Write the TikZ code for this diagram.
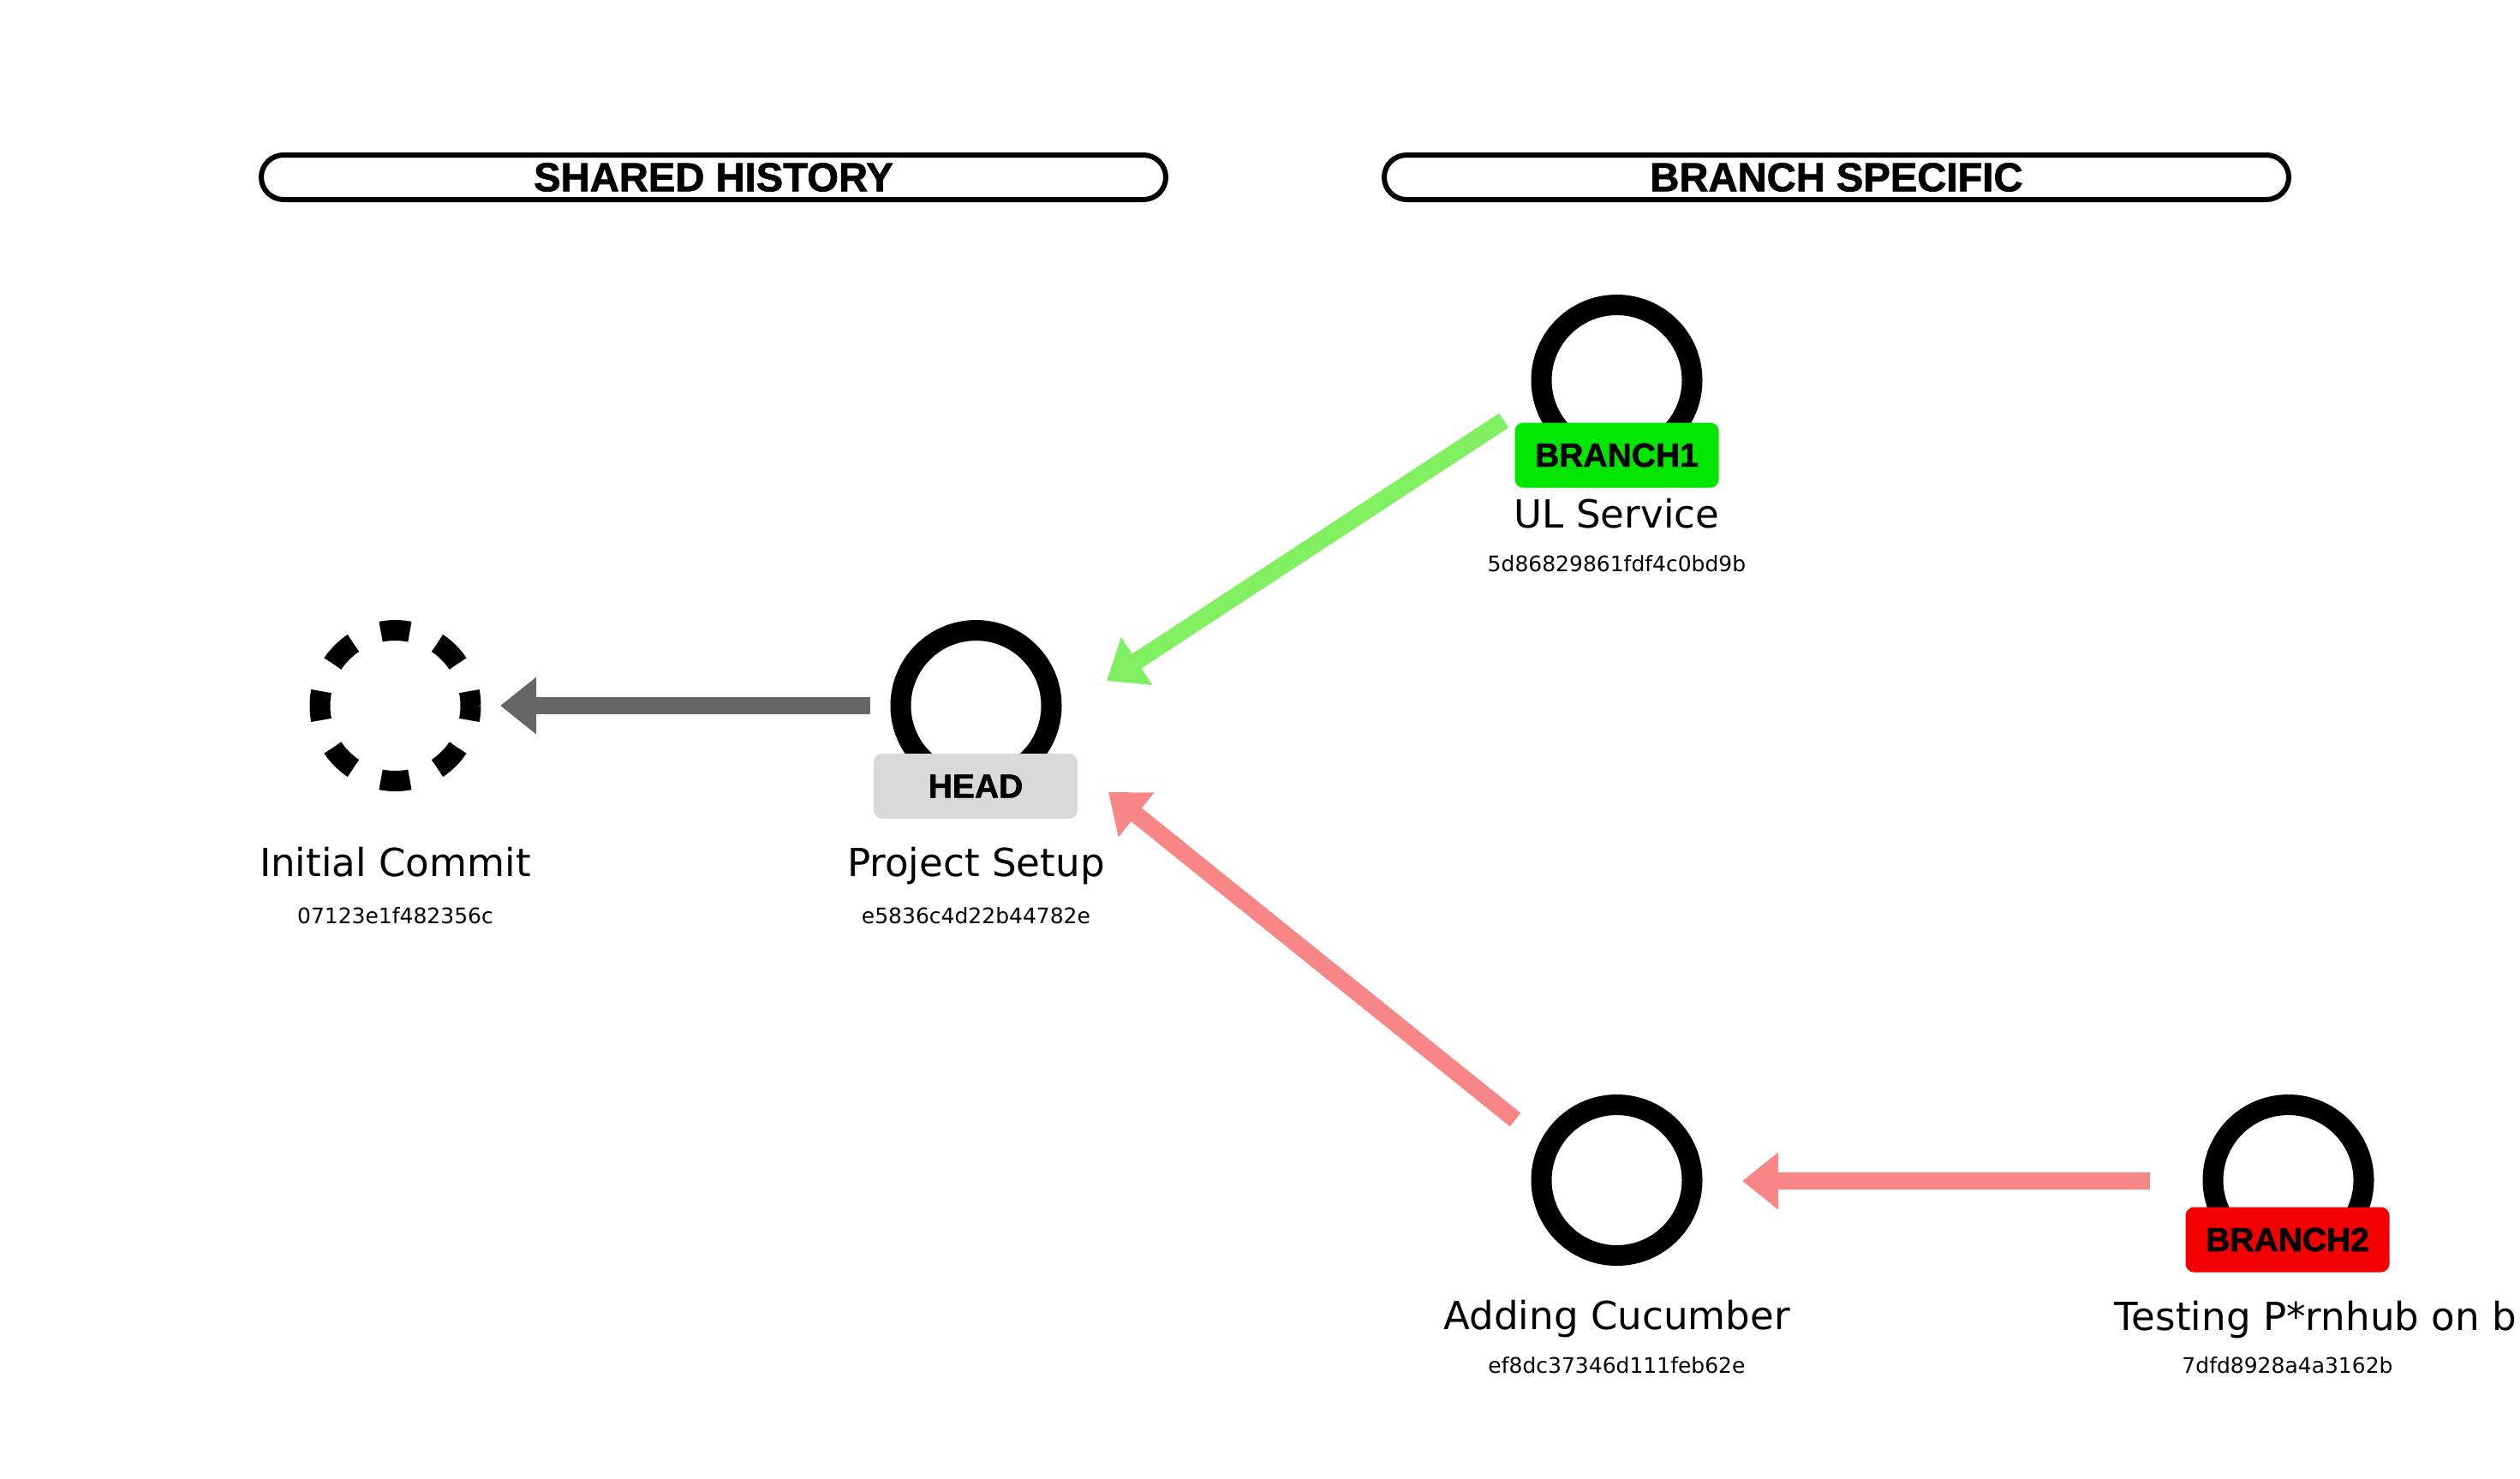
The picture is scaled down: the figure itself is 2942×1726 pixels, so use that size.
\documentclass[tikz,border=0pt]{standalone}
\usepackage{fontspec}
\setmainfont{DejaVu Sans}
\newfontfamily\lblfont{Liberation Sans}[BoldFeatures={FakeBold=1.5}]
\usetikzlibrary{arrows.meta,calc}
\definecolor{grayarrow}{HTML}{666666}
\definecolor{greenarrow}{HTML}{80F060}
\definecolor{redarrow}{HTML}{F88686}
\definecolor{headgray}{HTML}{D9D9D9}
\definecolor{brgreen}{HTML}{00E600}
\definecolor{brred}{HTML}{F50000}
\tikzset{
  hdr/.style={draw, line width=1.5pt, rounded corners=6.5pt, minimum width=264pt, minimum height=13pt, inner sep=0pt, font=\lblfont\bfseries\fontsize{11.8}{12}\selectfont},
  commit/.style={circle, draw, line width=6pt, minimum size=44pt, inner sep=0pt},
  dashcommit/.style={commit, dash pattern=on 8.5pt off 8.779pt, dash phase=4.25pt},
  lbl/.style={rounded corners=2.5pt, minimum width=59.5pt, minimum height=19pt, inner sep=0pt, font=\lblfont\bfseries\fontsize{9.75}{11}\selectfont},
  title/.style={inner sep=0pt, anchor=base, font=\fontsize{11.3}{13}\selectfont},
  hash/.style={inner sep=0pt, anchor=base, font=\fontsize{6.25}{8}\selectfont},
  conn/.style={line width=5pt, -{Triangle[length=10.5pt,width=16pt]}},
}
\begin{document}
\begin{tikzpicture}[x=0.25pt,y=-0.25pt]
\useasboundingbox (0,0) rectangle (2942,1726);
% headers
\node[hdr] (h1) at (833,207) {SHARED HISTORY};
\node[hdr] (h2) at (2144,207) {BRANCH SPECIFIC};
% commits
\node[dashcommit] (ic) at (461.5,824) {};
\node[commit] (ps) at (1139.5,824) {};
\node[commit] (ul) at (1887.5,444) {};
\node[commit] (ac) at (1887.5,1378) {};
\node[commit] (tp) at (2671.5,1378) {};
% connectors
\draw[conn, grayarrow] ($(ps)+(-123.5,0)$) -- ($(ic)+(122.5,0)$);
\draw[conn, greenarrow] ($(ul)+(-132,47)$) -- ($(ps)+(152.5,-29)$);
\draw[conn, redarrow] ($(ac)+(-118.5,-70.5)$) -- ($(ps)+(154.5,101)$);
\draw[conn, redarrow] ($(tp)+(-161.5,1)$) -- ($(ac)+(146.5,1)$);
% labels
\node[lbl, fill=headgray] (head) at (1139,918) {HEAD};
\node[lbl, fill=brgreen] (b1) at (1887.5,531.5) {BRANCH1};
\node[lbl, fill=brred] (b2) at (2670.5,1447.5) {BRANCH2};
% texts
\node[title] (ict) at (461.5,1023) {Initial Commit};
\node[hash] (ich) at (461.5,1078) {07123e1f482356c};
\node[title] (pst) at (1139.5,1023) {Project Setup};
\node[hash] (psh) at (1139.5,1078) {e5836c4d22b44782e};
\node[title] (ult) at (1887.5,616) {UL Service};
\node[hash] (ulh) at (1887.5,667) {5d86829861fdf4c0bd9b};
\node[title] (act) at (1887.5,1552) {Adding Cucumber};
\node[hash] (ach) at (1887.5,1603) {ef8dc37346d111feb62e};
\node[title, anchor=base west] (tpt) at (2468,1553) {Testing P*rnhub on b};
\node[hash] (tph) at (2670.5,1603) {7dfd8928a4a3162b};
\end{tikzpicture}
\end{document}
